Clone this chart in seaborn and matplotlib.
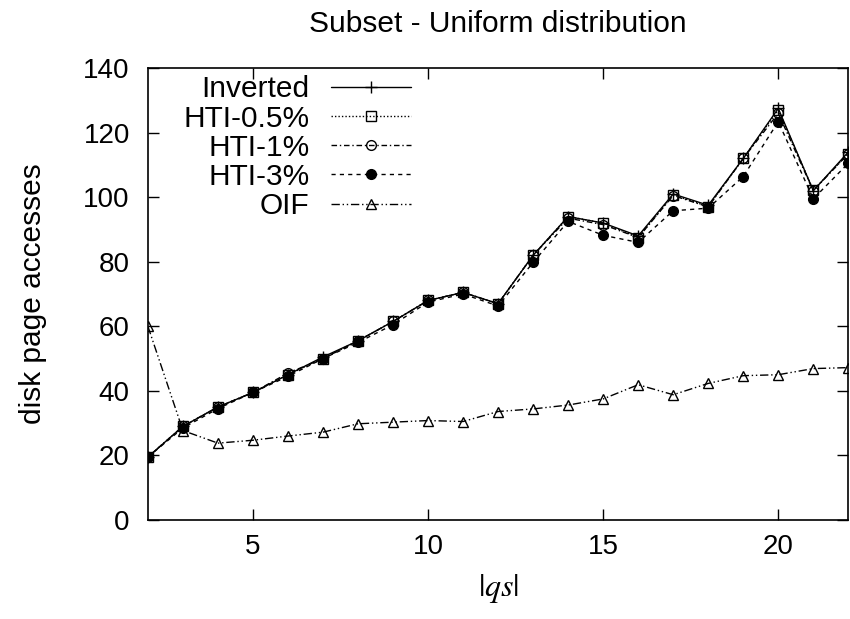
import matplotlib
matplotlib.use("Agg")
import matplotlib.pyplot as plt
import seaborn as sns
import pandas as pd

qs = list(range(2, 23))
inverted = [19.5, 29, 35, 39.5, 45, 50.5, 55.5, 61.5, 68, 70.5, 67, 82, 94, 92, 88, 101, 97.5, 112, 127.5, 102, 114]
hti05 = [19.5, 29, 35, 39.5, 45, 50, 55.5, 61.5, 68, 70.5, 67, 82, 94, 92, 87.5, 100.7, 97.1, 112, 127, 102.2, 113.5]
hti1 = [19.5, 29, 35, 39.5, 45.5, 50, 55.5, 61.5, 68, 70.5, 67, 82, 93.5, 91.5, 87.5, 100.5, 97, 112, 126, 102, 113.5]
hti3 = [19.5, 28.5, 34.5, 39.5, 44.5, 50, 55, 60.5, 67.5, 70, 66.3, 79.8, 92.5, 88.2, 86, 95.8, 96.6, 106.4, 123.4, 99.5, 110.5]
oif = [60, 27.7, 23.8, 24.7, 26, 27.2, 29.8, 30.3, 30.8, 30.5, 33.6, 34.4, 35.6, 37.5, 41.9, 38.8, 42.3, 44.7, 45, 46.9, 47.2]

series_names = ["Inverted", "HTI-0.5%", "HTI-1%", "HTI-3%", "OIF"]
series_values = [inverted, hti05, hti1, hti3, oif]
x_ticks = [5, 10, 15, 20]
y_ticks = [0, 20, 40, 60, 80, 100, 120, 140]

styles = {
    "Inverted": dict(linestyle="-", marker="+", mfc="k", ms=8),
    "HTI-0.5%": dict(linestyle=(0, (1, 1.5)), marker="s", mfc="none", ms=7),
    "HTI-1%": dict(linestyle=(0, (4, 2, 1, 2)), marker="o", mfc="none", ms=7),
    "HTI-3%": dict(linestyle=(0, (3, 3)), marker="o", mfc="k", ms=7),
    "OIF": dict(linestyle=(0, (6, 2, 1, 2, 1, 2)), marker="^", mfc="none", ms=7),
}

sns.set_style("ticks")
plt.rcParams["font.family"] = ["Liberation Sans", "DejaVu Sans"]
plt.rcParams["mathtext.fontset"] = "stix"
for key in ["text.color", "axes.labelcolor", "xtick.color", "ytick.color",
            "xtick.labelcolor", "ytick.labelcolor"]:
    plt.rcParams[key] = "black"

fig = plt.figure(figsize=(8.5, 6.19), dpi=100)
ax = fig.add_axes([0.174, 0.160, 0.824, 0.730])

for name, vals in zip(series_names, series_values):
    df = pd.DataFrame({"qs": qs, "val": vals})
    st = styles[name]
    sns.lineplot(data=df, x="qs", y="val", ax=ax, color="black", linewidth=1.0,
                 linestyle=st["linestyle"], marker=st["marker"], markersize=st["ms"],
                 markerfacecolor=st["mfc"], markeredgecolor="black", markeredgewidth=1.0,
                 label=name)

ax.set_xlim(2, 22)
ax.set_ylim(0, 140)
ax.set_xticks(x_ticks)
ax.set_yticks(y_ticks)
ax.tick_params(direction="in", length=8, width=1, top=True, right=True,
               labelsize=20, colors="black")
ax.tick_params(axis="x", pad=10)
ax.tick_params(axis="y", pad=13)
for sp in ax.spines.values():
    sp.set_visible(True)
    sp.set_linewidth(1.2)
    sp.set_color("black")

ax.set_title("Subset - Uniform distribution", fontsize=21.5, pad=26)
ax.set_ylabel("disk page accesses", fontsize=21.5, labelpad=26)
ax.set_xlabel(r"$|qs|$", fontsize=23, labelpad=9)

leg = ax.legend(loc="upper right", bbox_to_anchor=(0.376, 0.984), frameon=False,
                markerfirst=False, fontsize=21.5, handlelength=2.7, labelspacing=0.04,
                handletextpad=0.7, borderaxespad=0.0, borderpad=0.0)
for col in leg._legend_handle_box.get_children():
    col.align = "right"

fig.savefig("out.png", dpi=100)
